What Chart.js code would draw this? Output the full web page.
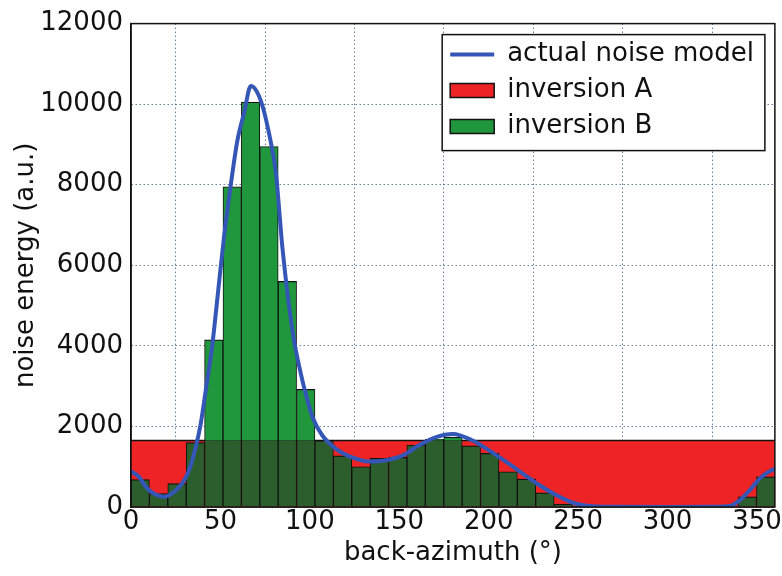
<!DOCTYPE html>
<html>
<head>
<meta charset="utf-8">
<script src="https://cdn.jsdelivr.net/npm/chart.js@4.4.0/dist/chart.umd.min.js"></script>
<style>
    html, body { margin: 0; padding: 0; background: #ffffff; }
    canvas { display: block; }
</style>
</head>
<body>
<canvas id="noiseChart" width="782" height="576"></canvas>
<script>
// Klassen des Histogramms (35 Klassen über 0-360 Grad)
const binCount = 35;
const binWidth = 360 / binCount;
const binCenters = Array.from({ length: binCount }, (_, i) => (i + 0.5) * binWidth);
const binEdges = Array.from({ length: binCount + 1 }, (_, i) => i * binWidth);

// Achsenbeschriftung
const xTicks = [0, 50, 100, 150, 200, 250, 300, 350];
const yTicks = [0, 2000, 4000, 6000, 8000, 10000, 12000];

// Inversion A: flach über alle Richtungen
const inversionA = [
    1650, 1650, 1650, 1650, 1650, 1650, 1650, 1650, 1650, 1650,
    1650, 1650, 1650, 1650, 1650, 1650, 1650, 1650, 1650, 1650,
    1650, 1650, 1650, 1650, 1650, 1650, 1650, 1650, 1650, 1650,
    1650, 1650, 1650, 1650, 1650
];

// Inversion B
const inversionB = [
    680, 335, 580, 1600, 4150, 7950, 10050, 8950, 5600, 2920,
    1650, 1270, 1000, 1210, 1230, 1540, 1680, 1735, 1520, 1330,
    875, 690, 350, 70, 10, 0, 0, 0, 0, 0,
    0, 0, 0, 250, 750
];

// Tatsächliches Rauschmodell
const modelAzimuth = [
    0, 4.5, 7.3, 10, 13, 18.5, 23, 27, 30, 32.5, 36.2, 39, 41.8, 45.4, 49.3, 52, 55.8,
    59.5, 63.3, 67, 72.6, 78.2, 81, 84.7, 90.3, 95, 98.7, 101.5, 107, 114.6, 124, 133,
    142.6, 152, 161, 170.6, 180, 191, 200.4, 209.8, 219, 228.4, 237.8, 247, 256, 270,
    300, 325, 334.8, 340.4, 346, 351.6, 356, 360
];
const modelEnergy = [
    880, 750, 560, 420, 330, 255, 340, 500, 680, 920, 1490, 2070, 2900, 4000, 5600, 6700, 8000,
    9100, 9800, 10450, 10080, 9050, 8300, 6420, 4370, 3300, 2640, 2230, 1775, 1445, 1225, 1130,
    1160, 1280, 1530, 1735, 1815, 1650, 1400, 1120, 830, 540, 295, 105, 25, 5,
    0, 5, 25, 170, 420, 710, 860, 950
];

const colorRed = "#ee2326";
const colorGreen = "#21973d";
const colorGreenDark = "#2c5d2d";
const colorBlue = "#3456b6";
const colorEdge = "#111111";
const colorGrid = "rgba(70,105,140,0.85)";

Chart.defaults.font.family = "'DejaVu Sans', sans-serif";
Chart.defaults.font.size = 26;
Chart.defaults.color = "#111111";

/*
Legende in die rechte obere Ecke setzen und Rahmen zeichnen.
 */
const frameAndLegend = {
    id: "frameAndLegend",
    afterLayout(chart) {
        const lg = chart.legend;
        const ca = chart.chartArea;
        lg.left = ca.right - 11 - lg.width;
        lg.right = lg.left + lg.width;
        lg.top = ca.top + 8;
        lg.bottom = lg.top + lg.height;
    },
    afterDraw(chart) {
        const ctx = chart.ctx;
        const ca = chart.chartArea;
        const lg = chart.legend;
        ctx.save();
        ctx.strokeStyle = colorEdge;
        ctx.lineWidth = 1.5;
        ctx.strokeRect(ca.left, ca.top, ca.right - ca.left, ca.bottom - ca.top);

        const rows = lg.legendItems.length;
        const x0 = lg.left + 2;
        const y0 = lg.top + 3;
        const w = lg.width - 1;
        const h = 10 + rows * 36 - 2;
        ctx.fillStyle = "#ffffff";
        ctx.fillRect(x0, y0, w, h);
        ctx.strokeRect(x0, y0, w, h);
        ctx.restore();
        lg.draw();
    }
};

// Stufenkurve für Inversion A (Kanten der Klassen)
const inversionASteps = binEdges.map((e, i) => ({ x: e, y: inversionA[Math.min(i, binCount - 1)] }));

const ctx = document.getElementById("noiseChart");
const noiseChart = new Chart(ctx, {
    type: "bar",
    data: {
        datasets: [{
            type: "line",
            label: "actual noise model",
            legendShape: "line",
            data: modelAzimuth.map((az, i) => ({ x: az, y: modelEnergy[i] })),
            borderColor: colorBlue,
            backgroundColor: colorBlue,
            borderWidth: 4,
            pointRadius: 0,
            cubicInterpolationMode: "monotone",
            order: 0,
        }, {
            type: "line",
            label: "inversion A",
            data: inversionASteps,
            stepped: "after",
            fill: "origin",
            backgroundColor: colorRed,
            borderColor: colorEdge,
            borderWidth: 1.5,
            pointRadius: 0,
            order: 3,
        }, {
            label: "inversion B",
            // Teil oberhalb von Inversion A
            data: binCenters.map((c, i) => ({ x: c, y: inversionB[i] > inversionA[i] ? [inversionA[i], inversionB[i]] : null })),
            backgroundColor: colorGreen,
            borderColor: colorEdge,
            borderWidth: { top: 1.2, left: 1, right: 1, bottom: 0 },
            borderSkipped: false,
            order: 1,
        }, {
            label: "inversion B (overlap)",
            hideInLegend: true,
            // Teil unterhalb von Inversion A
            data: binCenters.map((c, i) => ({ x: c, y: Math.min(inversionA[i], inversionB[i]) })),
            backgroundColor: colorGreenDark,
            borderColor: colorEdge,
            borderWidth: (c) => ({
                top: inversionB[c.dataIndex] > inversionA[c.dataIndex] ? 0 : 1.2,
                left: 1, right: 1, bottom: 0
            }),
            borderSkipped: false,
            order: 2,
        }],
    },
    options: {
        responsive: false,
        animation: false,
        layout: { padding: { top: 21, right: 7, left: 0, bottom: 0 } },
        datasets: {
            bar: { grouped: false, barPercentage: 1, categoryPercentage: 1 },
        },
        scales: {
            x: {
                type: "linear",
                min: 0,
                max: 360,
                offset: false,
                z: 1,
                afterBuildTicks: (scale) => { scale.ticks = xTicks.map((v) => ({ value: v })); },
                afterFit: (scale) => { scale.height = 69; },
                ticks: { padding: 0, autoSkip: false, maxRotation: 0, callback: (v) => String(v) },
                grid: { color: colorGrid, lineWidth: 1, drawTicks: false },
                border: { display: true, color: colorEdge, width: 1.5, dash: [1.5, 2.5] },
                title: { display: true, text: "back-azimuth (\u00b0)", padding: { top: 0, bottom: 7 } },
            },
            y: {
                min: 0,
                max: 12000,
                z: 1,
                afterBuildTicks: (scale) => { scale.ticks = yTicks.map((v) => ({ value: v })); },
                afterFit: (scale) => { scale.width = 131; },
                ticks: { padding: 8, callback: (v) => String(v) },
                grid: { color: colorGrid, lineWidth: 1, drawTicks: false },
                border: { display: true, color: colorEdge, width: 1.5, dash: [1.5, 2.5] },
                title: { display: true, text: "noise energy (a.u.)", padding: { top: 11, bottom: 0 } },
            },
        },
        plugins: {
            tooltip: { enabled: false },
            legend: {
                position: "chartArea",
                align: "start",
                labels: {
                    usePointStyle: true,
                    pointStyleWidth: 44,
                    boxHeight: 14,
                    padding: 10,
                    generateLabels(chart) {
                        const items = Chart.defaults.plugins.legend.labels.generateLabels(chart);
                        return items
                            .filter((it) => !chart.data.datasets[it.datasetIndex].hideInLegend)
                            .map((it) => {
                                const ds = chart.data.datasets[it.datasetIndex];
                                if (ds.legendShape === "line") {
                                    it.pointStyle = "line";
                                    it.lineWidth = 4;
                                    it.strokeStyle = colorBlue;
                                } else {
                                    it.pointStyle = "rect";
                                    it.lineWidth = 1.5;
                                    it.strokeStyle = colorEdge;
                                    it.fillStyle = ds.backgroundColor;
                                }
                                return it;
                            })
                            .sort((a, b) => a.datasetIndex - b.datasetIndex);
                    },
                },
            },
        },
    },
    plugins: [frameAndLegend],
});
</script>
</body>
</html>
